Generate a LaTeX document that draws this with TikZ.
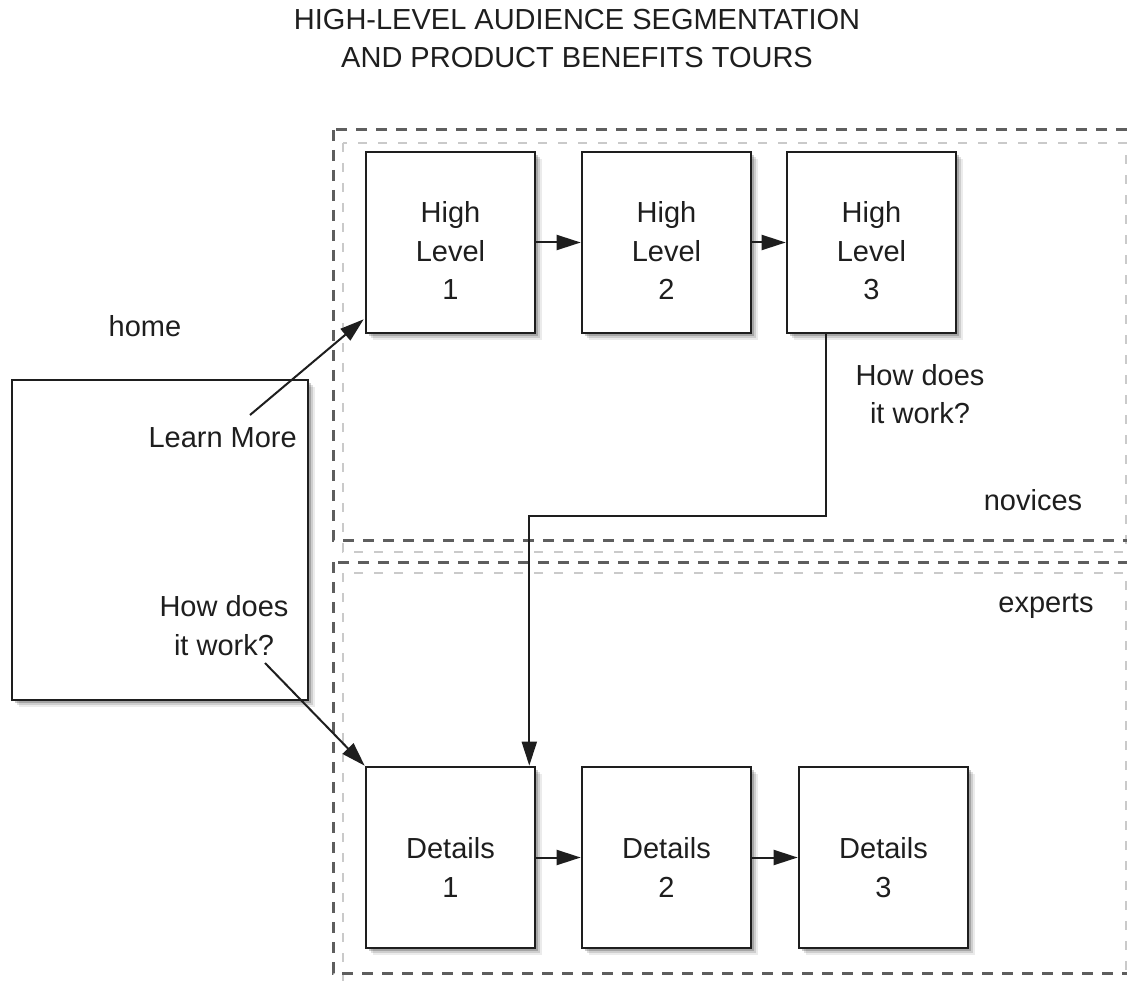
\documentclass[tikz,border=0pt]{standalone}
\usepackage{fontspec}
\setmainfont{Liberation Sans}
\usetikzlibrary{arrows.meta,shadows,calc}
\definecolor{ink}{HTML}{1E1E1E}
\definecolor{darkdash}{HTML}{5E5E5E}
\definecolor{lightdash}{HTML}{CACACA}
\begin{document}
\begin{tikzpicture}[x=1pt,y=-1pt,
  every node/.style={font=\fontsize{29}{38.5}\selectfont, text=ink},
  box/.style={draw=ink, line width=2.6pt, fill=white, rectangle, inner sep=0pt,
    minimum width=169pt, minimum height=181pt,
    drop shadow={shadow xshift=7pt, shadow yshift=-7pt, fill=black, opacity=0.08},
    drop shadow={shadow xshift=5pt, shadow yshift=-5pt, fill=black, opacity=0.12},
    drop shadow={shadow xshift=3pt, shadow yshift=-3pt, fill=black, opacity=0.2}},
  lbl/.style={align=center, anchor=base, inner sep=0pt},
  arr/.style={draw=ink, line width=2pt, -{Triangle[length=24pt,width=15pt]}},
  groupdark/.style={draw=darkdash, line width=3pt, dash pattern=on 11pt off 9pt},
  grouplight/.style={draw=lightdash, line width=2.4pt, dash pattern=on 9pt off 11pt}]
\useasboundingbox (0,0) rectangle (1127,981);
\clip (0,0) rectangle (1127,981);

% group frames
\draw[grouplight] (343,143) rectangle (1126,552);
\draw[groupdark] (333,130) rectangle (1140,540);
\draw[grouplight] (343,573) rectangle (1126,990);
\draw[groupdark] (333,562) rectangle (1140,973);

% title
\node[lbl] (title) at (577,68) {HIGH-LEVEL AUDIENCE SEGMENTATION\\AND PRODUCT BENEFITS TOURS};

% home
\node[box, minimum width=296pt, minimum height=320pt] (home) at (160,540) {};
\node[lbl] (homelbl) at (145,337) {home};
\node[lbl, anchor=base east] (learn) at (297,447) {Learn More};
\node[lbl] (howhome) at (224,655) {How does\\it work?};

% high level boxes
\node[box] (hl1) at (450.5,242.5) {};
\node[box] (hl2) at (666.5,242.5) {};
\node[box] (hl3) at (871.5,242.5) {};
\node[lbl] (t1) at (450.5,300) {High\\Level\\1};
\node[lbl] (t2) at (666.5,300) {High\\Level\\2};
\node[lbl] (t3) at (871.5,300) {High\\Level\\3};

% details boxes
\node[box] (d1) at (450.5,857.5) {};
\node[box] (d2) at (666.5,857.5) {};
\node[box] (d3) at (883.5,857.5) {};
\node[lbl] (u1) at (450.5,897) {Details\\1};
\node[lbl] (u2) at (666.5,897) {Details\\2};
\node[lbl] (u3) at (883.5,897) {Details\\3};

% labels
\node[lbl] (howhl) at (920,424) {How does\\it work?};
\node[lbl] (nov) at (1033,510) {novices};
\node[lbl] (exp) at (1046,612) {experts};

% connectors
\draw[arr] (hl1.east) -- (hl2.west);
\draw[arr] (hl2.east) -- (hl3.west);
\draw[arr] (d1.east) -- (d2.west);
\draw[arr] (d2.east) -- (d3.west);

\coordinate (lmstart) at (250,415);
\draw[arr] (lmstart) -- ($(hl1.south west)+(-1,-15)$);
\coordinate (hwstart) at (265,663);
\draw[arr] (hwstart) -- (d1.north west);

\draw[arr] ($(hl3.south west)+(40,0)$) |- ($(d1.north east)+(-7,-250)$) -- ($(d1.north east)+(-7,0)$);
\end{tikzpicture}
\end{document}
